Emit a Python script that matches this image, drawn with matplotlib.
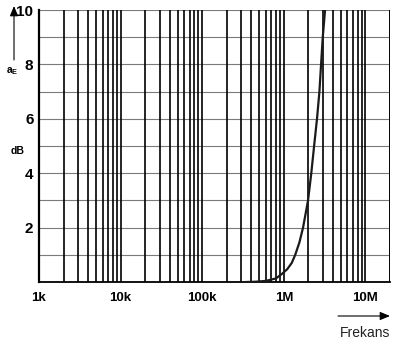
import matplotlib
matplotlib.use("Agg")
import matplotlib.pyplot as plt

# attenuation curve
freq_hz = [350e3, 450e3, 600e3, 800e3, 0.95e6, 1.1e6, 1.25e6, 1.38e6, 1.55e6,
           1.72e6, 1.98e6, 2.17e6, 2.35e6, 2.55e6, 2.73e6, 2.86e6, 3.0e6, 3.2e6]
atten_db = [0.0, 0.01, 0.04, 0.13, 0.3, 0.47, 0.7, 1.0, 1.45,
            2.0, 3.0, 4.0, 5.0, 6.0, 7.0, 8.0, 9.0, 10.0]

x_ticks = [1e3, 1e4, 1e5, 1e6, 1e7]
x_labels = ["1k", "10k", "100k", "1M", "10M"]
y_ticks = [2, 4, 6, 8, 10]
y_labels = ["2", "4", "6", "8", "10"]

plt.rcParams["font.family"] = ["Liberation Sans", "DejaVu Sans"]

fig = plt.figure(figsize=(3.93, 3.51), dpi=100)
ax = fig.add_axes([39 / 393, 69 / 351, 351 / 393, 272 / 351])

# grid: grey horizontal lines each dB, black vertical lines 1..9 per decade
for v in range(1, 11):
    ax.axhline(v, color="#7a7a7a", lw=0.8, zorder=1)
for dec in [1e3, 1e4, 1e5, 1e6, 1e7]:
    for m in range(1, 10):
        f = dec * m
        if f <= 2e7:
            ax.axvline(f, color="black", lw=1.2, zorder=1)
ax.axvline(2e7, color="black", lw=1.2, zorder=1)

ax.plot(freq_hz, atten_db, color="#1a1a1a", lw=1.6, zorder=3)

ax.set_xscale("log")
ax.set_xlim(1e3, 2e7)
ax.set_ylim(0, 10)

ax.set_xticks(x_ticks)
ax.set_xticklabels(x_labels, fontsize=9.5, fontweight="bold")
ax.set_xticks([], minor=True)
ax.set_yticks(y_ticks)
ax.set_yticklabels(y_labels, fontsize=11, fontweight="bold")
ax.tick_params(axis="x", length=0, pad=7)
ax.tick_params(axis="y", length=0, pad=4)

for s in ["top", "right"]:
    ax.spines[s].set_visible(False)
ax.spines["left"].set_linewidth(1.6)
ax.spines["bottom"].set_linewidth(1.3)

# axis captions and arrows
fig.text(12 / 393, 1 - 71 / 351, r"a$_\mathregular{E}$", fontsize=7.5,
         fontweight="bold", ha="center", va="center")
fig.text(18 / 393, 1 - 151 / 351, "dB", fontsize=7.5, fontweight="bold",
         ha="center", va="center")
fig.add_artist(matplotlib.patches.FancyArrowPatch(
    (14 / 393, 1 - 60 / 351), (14 / 393, 1 - 6 / 351),
    transform=fig.transFigure, arrowstyle="-|>,head_length=6,head_width=2.5",
    color="black", lw=0.8, shrinkA=0, shrinkB=0))
fig.add_artist(matplotlib.patches.FancyArrowPatch(
    (338 / 393, 1 - 316 / 351), (390 / 393, 1 - 316 / 351),
    transform=fig.transFigure, arrowstyle="-|>,head_length=6,head_width=2.5",
    color="black", lw=0.8, shrinkA=0, shrinkB=0))
fig.text(365 / 393, 1 - 333 / 351, "Frekans", fontsize=10, color="#222222",
         ha="center", va="center")

plt.savefig("out.png", dpi=100)
